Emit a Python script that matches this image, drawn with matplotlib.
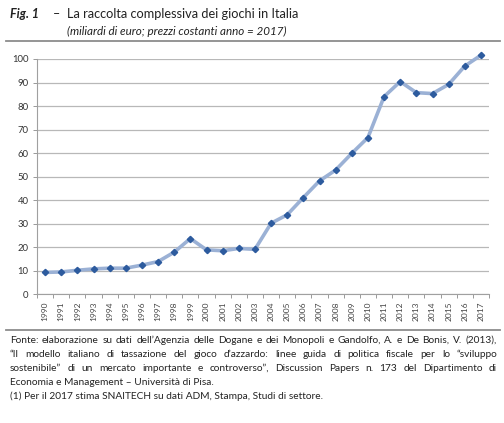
import matplotlib
matplotlib.use("Agg")
import matplotlib.pyplot as plt
from matplotlib.lines import Line2D
import numpy as np

years = [str(y) for y in range(1990, 2018)]
values = [9.3, 9.5, 10.2, 10.8, 11.1, 11.1, 12.4, 13.9, 17.9, 23.7,
          18.9, 18.5, 19.5, 19.1, 30.2, 33.8, 41.1, 48.2, 52.8, 59.9,
          66.6, 84.0, 90.4, 85.7, 85.3, 89.2, 97.0, 101.6]
yticks = list(range(0, 101, 10))

title_fig = "Fig. 1"
title_main = "La raccolta complessiva dei giochi in Italia"
subtitle = "(miliardi di euro; prezzi costanti anno = 2017)"
footer_just = [
    "Fonte: elaborazione su dati dell’Agenzia delle Dogane e dei Monopoli e Gandolfo, A. e De Bonis, V. (2013),",
    "“Il modello italiano di tassazione del gioco d’azzardo: linee guida di politica fiscale per lo “sviluppo",
    "sostenibile” di un mercato importante e controverso”, Discussion Papers n. 173 del Dipartimento di",
]
footer_left = [
    "Economia e Management – Università di Pisa.",
    "(1) Per il 2017 stima SNAITECH su dati ADM, Stampa, Studi di settore.",
]

FONT = "Lato"
W, H = 504, 423
fig = plt.figure(figsize=(W / 100, H / 100), dpi=100)
fig.patch.set_facecolor("white")

def fx(px):
    return px / W

def fy(py):
    return 1 - py / H

ax = fig.add_axes([fx(37), fy(294.3), fx(489) - fx(37), fy(59) - fy(294.3)])
x = np.arange(len(years))
ax.plot(x, values, color="#9BB1D5", lw=2.6, solid_capstyle="round", zorder=3, clip_on=False)
ax.plot(x, values, ls="none", marker="D", ms=3.2, color="#2D5B9E", zorder=4, clip_on=False)
ax.set_xlim(-0.5, len(years) - 0.5)
ax.set_ylim(0, 100)
ax.set_yticks(yticks)
ax.set_yticklabels([str(v) for v in yticks], fontsize=6.8, color="#333333", family=FONT)
ax.set_xticks(x)
ax.set_xticklabels(years, rotation=90, fontsize=6.0, color="#444444", family=FONT)
ax.set_xticks(np.arange(-0.5, len(years), 1), minor=True)
ax.tick_params(axis="x", which="major", length=0, pad=5)
ax.tick_params(axis="x", which="minor", length=3, color="#999999", width=0.7)
ax.tick_params(axis="y", length=3, color="#999999", width=0.7, pad=3)
ax.grid(axis="y", color="#B8B8B8", lw=0.9)
ax.set_axisbelow(True)
for s in ["top", "right"]:
    ax.spines[s].set_visible(False)
for s in ["left", "bottom"]:
    ax.spines[s].set_color("#A0A0A0")
    ax.spines[s].set_linewidth(0.8)

# title
fig.text(fx(10), fy(14.5), title_fig, fontsize=9, fontweight="bold", style="italic",
         family=FONT, va="center", ha="left", color="#222222")
fig.text(fx(53), fy(14.5), "–", fontsize=9, family=FONT, va="center", ha="left", color="#222222")
fig.text(fx(67), fy(14.5), title_main, fontsize=9.2, family=FONT, va="center", ha="left", color="#222222")
fig.text(fx(67), fy(31.5), subtitle, fontsize=8.4, style="italic", family=FONT,
         va="center", ha="left", color="#222222")

fig.add_artist(Line2D([fx(6), fx(500)], [fy(41.5), fy(41.5)], color="#8C8C8C", lw=1.3))
fig.add_artist(Line2D([fx(6), fx(500)], [fy(329.5), fy(329.5)], color="#8C8C8C", lw=1.3))

# footer
fs = 7.3
left, right = 10, 497
ys = [340, 354, 368, 382, 396]
fig.canvas.draw()
renderer = fig.canvas.get_renderer()
for line, yy in zip(footer_just, ys[:3]):
    words = line.split(" ")
    arts = []
    widths = []
    for w in words:
        t = fig.text(0, fy(yy), w, fontsize=fs, family=FONT, va="center", ha="left", color="#222222")
        bb = t.get_window_extent(renderer)
        arts.append(t)
        widths.append(bb.width)
    gap = (right - left - sum(widths)) / (len(words) - 1)
    xpos = left
    for t, wd in zip(arts, widths):
        t.set_x(fx(xpos))
        xpos += wd + gap
for line, yy in zip(footer_left, ys[3:]):
    fig.text(fx(left), fy(yy), line, fontsize=fs, family=FONT, va="center", ha="left", color="#222222")

fig.savefig("out.png", dpi=100, facecolor="white")
